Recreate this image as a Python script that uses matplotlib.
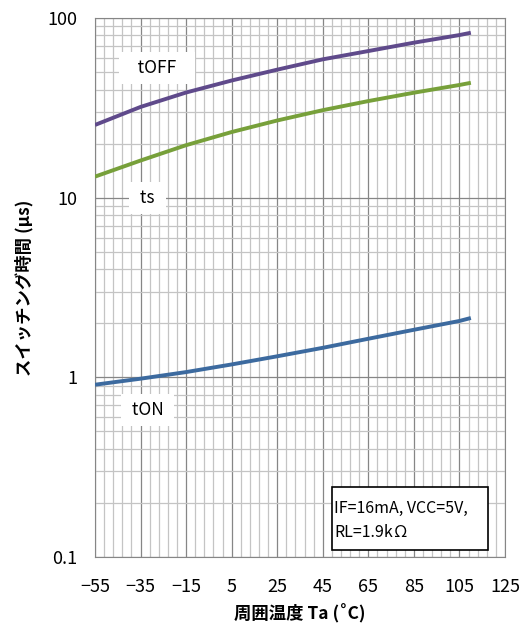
import numpy as np
import matplotlib.pyplot as plt
from matplotlib.patches import Rectangle
from matplotlib.ticker import FixedLocator, FixedFormatter, MultipleLocator

plt.rcParams['font.family'] = ['Noto Sans CJK JP', 'DejaVu Sans']

# 読み取った値
temp = [-55, -35, -15, 5, 25, 45, 65, 85, 105, 110]
t_off = [25.4, 32.0, 38.5, 44.9, 51.6, 58.9, 65.5, 72.9, 80.4, 82.8]
t_s = [13.1, 16.1, 19.6, 23.2, 26.9, 30.7, 34.5, 38.4, 42.4, 43.6]
t_on = [0.91, 0.983, 1.07, 1.18, 1.31, 1.46, 1.64, 1.84, 2.06, 2.14]

series_names = ['tOFF', 'ts', 'tON']
series_colors = ['#5f4a8b', '#77a03a', '#3c6a9f']

xticks = [-55, -35, -15, 5, 25, 45, 65, 85, 105, 125]
xticklabels = ['\u221255', '\u221235', '\u221215', '5', '25', '45', '65', '85', '105', '125']
yticks = [0.1, 1, 10, 100]
yticklabels = ['0.1', '1', '10', '100']

fig = plt.figure(figsize=(5.26, 6.26), dpi=100)
ax = fig.add_axes([0.1806, 0.1102, 0.7795, 0.861])

for vals, name, col in zip([t_off, t_s, t_on], series_names, series_colors):
    ax.plot(temp, vals, color=col, lw=2.8, solid_capstyle='butt',
            solid_joinstyle='round', zorder=3)

ax.set_yscale('log')
ax.set_xlim(-55, 125)
ax.set_ylim(0.1, 100)

ax.xaxis.set_major_locator(FixedLocator(xticks))
ax.xaxis.set_major_formatter(FixedFormatter(xticklabels))
ax.xaxis.set_minor_locator(MultipleLocator(4, offset=1))
ax.yaxis.set_major_locator(FixedLocator(yticks))
ax.yaxis.set_major_formatter(FixedFormatter(yticklabels))

ax.grid(which='minor', color='#c4c4c4', lw=0.9)
ax.grid(which='major', color='#868686', lw=0.9)
ax.set_axisbelow(True)
ax.tick_params(which='both', length=0, labelsize=13)
ax.tick_params(axis='x', pad=15)
ax.tick_params(axis='y', pad=13)
for s in ax.spines.values():
    s.set_color('#868686')

ax.set_xlabel('周囲温度 Ta (˚C)', fontsize=12.5, fontweight='bold', labelpad=6)
ax.set_ylabel('スイッチング時間 (μs)', fontsize=12.5, fontweight='bold', labelpad=10)

# 系列ラベル
label_pos = [(-27.7, 52.7), (-32, 10), (-32, 0.655)]
label_text = ['   tOFF   ', ' ts ', ' tON ']
for (lx, ly), txt in zip(label_pos, label_text):
    ax.text(lx, ly, txt, fontsize=12.5, ha='center', va='center', zorder=4,
            bbox=dict(facecolor='white', edgecolor='none', pad=5))

# 条件ボックス
ax.add_patch(Rectangle((0.578, 0.013), 0.3805, 0.117, transform=ax.transAxes,
                       facecolor='white', edgecolor='black', lw=1.2, zorder=4))
ax.text(0.583, 0.091, 'IF=16mA, VCC=5V,', transform=ax.transAxes, fontsize=11.5,
        ha='left', va='center', zorder=5)
ax.text(0.583, 0.046, 'RL=1.9k\u2126', transform=ax.transAxes, fontsize=11.5,
        ha='left', va='center', zorder=5)

fig.savefig('out.png', dpi=100)
